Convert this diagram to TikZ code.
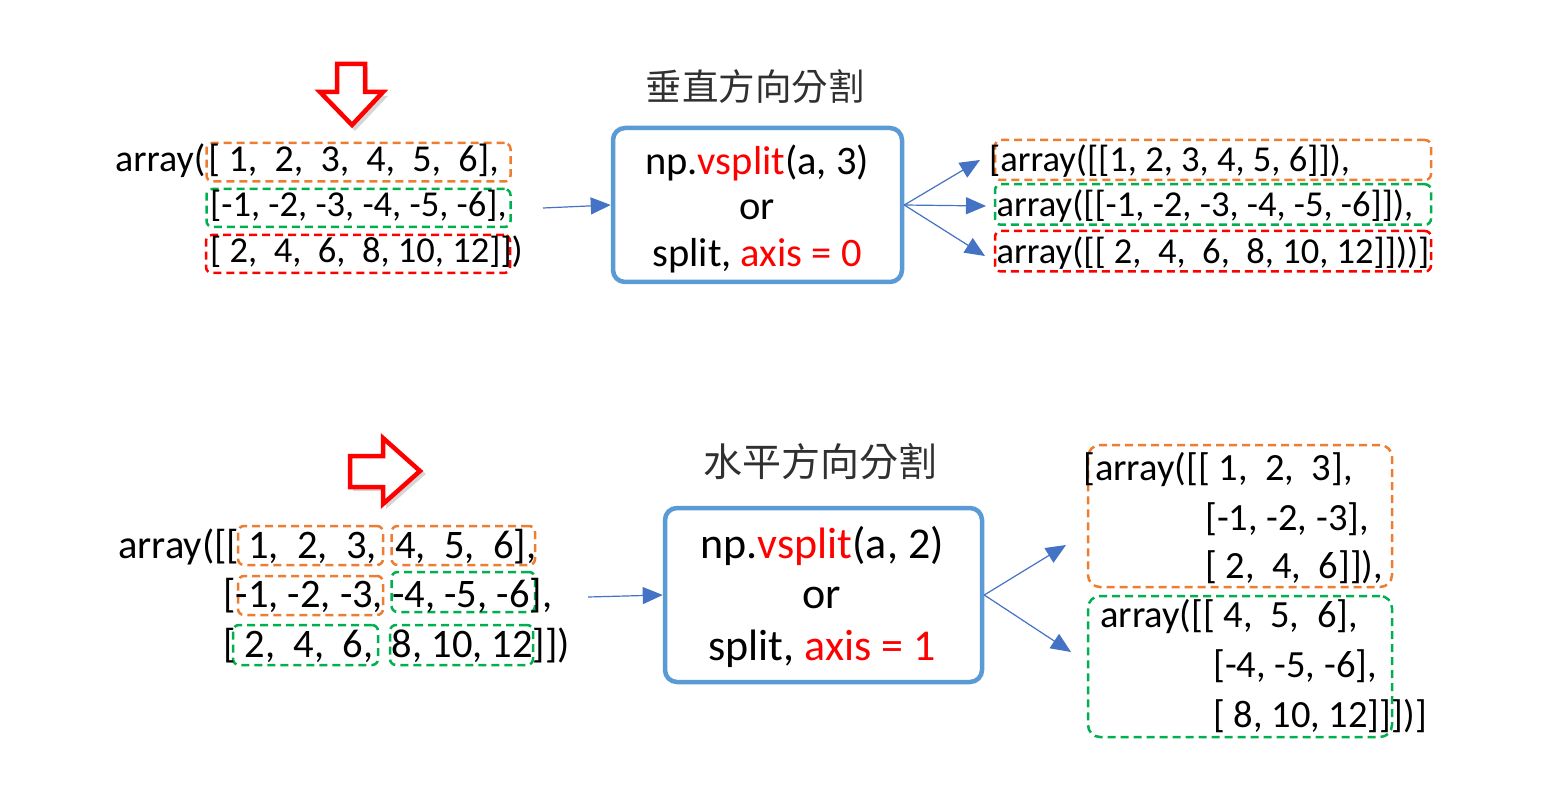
\documentclass[tikz,border=0pt]{standalone}
\usepackage{fontspec}
\setmainfont{Carlito}
\newfontfamily\cjk{Noto Sans CJK TC}
\usetikzlibrary{arrows.meta}
\definecolor{cOrange}{HTML}{ED7D31}
\definecolor{cGreen}{HTML}{00B050}
\definecolor{cRed}{HTML}{FF0000}
\definecolor{cBlue}{HTML}{4472C4}
\definecolor{cBox}{HTML}{5B9BD5}
\definecolor{cTitle}{HTML}{303030}
\begin{document}
\begin{tikzpicture}[x=1pt,y=-1pt,
  dbox/.style={draw, line width=2.5pt, dash pattern=on 8pt off 5pt, rounded corners=6pt, inner sep=0pt},
  obox/.style={dbox, draw=cOrange},
  gbox/.style={dbox, draw=cGreen},
  rbox/.style={dbox, draw=cRed},
  txt/.style={inner sep=0pt, anchor=base west},
  fsA/.style={font=\fontsize{36.5}{44}\selectfont},
  fsAA/.style={font=\fontsize{38}{44}\selectfont},
  fsB/.style={font=\fontsize{40.5}{48}\selectfont},
  fsC/.style={font=\fontsize{38.5}{46}\selectfont},
  btxt/.style={inner sep=0pt, anchor=base},
  splitbox/.style={draw=cBox, line width=4.5pt, rounded corners=12pt, inner sep=0pt},
  title/.style={inner sep=0pt, text=cTitle, font=\cjk\fontsize{36.5}{40}\selectfont},
  arr/.style={draw=cBlue, line width=1.2pt, -{Triangle[length=20pt,width=17pt]}},
  hollow/.style={draw=cRed, line width=4.5pt, fill=white, line join=miter},
  shadowc/.style={fill=black, opacity=0.16}
]
\useasboundingbox (0,0) rectangle (1565,791);
\fill[white] (0,0) rectangle (1565,791);

%% ---------------- top section ----------------
% red hollow down arrow
\fill[shadowc] (340,67) -- (368,67) -- (368,96) -- (388,96) -- (355,131) -- (322,96) -- (340,96) -- cycle;
\draw[hollow] (337,64) -- (365,64) -- (365,92) -- (383,92) -- (352,125) -- (320,92) -- (337,92) -- cycle;

% dashed boxes left
\node[obox, minimum width=304, minimum height=38.5] (o1) at (358.5,162.25) {};
\node[gbox, minimum width=304, minimum height=38] (g1) at (358.5,208) {};
\node[rbox, minimum width=304, minimum height=38] (r1) at (358,254) {};

% left text
\node[txt, fsAA] (L1) at (115,172) {array(\hspace{3pt}[~1,~~2,~~3,~~4,~~5,~~6],};
\node[txt, fsA] (L2) at (210,217) {[-1,~-2,~-3,~-4,~-5,~-6],};
\node[txt, fsA] (L3) at (210,263) {[~2,~~4,~~6,~~8,~10,~12]])};

% title
\node[title] (t1) at (755,87) {垂直方向分割};

% split box
\node[splitbox, minimum width=289, minimum height=154] (box1) at (757.5,205) {};
\node[btxt, fsB] (b1a) at (757,175) {np.\textcolor{cRed}{vsplit}(a,~3)};
\node[btxt, fsB] (b1b) at (757,220) {or};
\node[btxt, fsB] (b1c) at (757,267) {split,~\textcolor{cRed}{axis = 0}};

% right dashed boxes
\node[obox, minimum width=436, minimum height=40] (o1r) at (1213,160) {};
\node[gbox, minimum width=436, minimum height=40.5] (g1r) at (1213,204.5) {};
\node[rbox, minimum width=436, minimum height=40.5] (r1r) at (1213,251.25) {};

% right text
\node[txt, fsA] (R1) at (989,172) {[array([[1,~2,~3,~4,~5,~6]]),};
\node[txt, fsA] (R2) at (996.5,217) {array([[-1,~-2,~-3,~-4,~-5,~-6]]),};
\node[txt, fsA] (R3) at (996.5,263.5) {array([[~2,~~4,~~6,~~8,~10,~12]]))]};

% arrows
\coordinate (s1) at (543,208);
\draw[arr] (s1) -- (box1.west);
\coordinate (e1a) at (980,160);
\coordinate (e1b) at (986,206);
\coordinate (e1c) at (985,256);
\draw[arr] (box1.east) -- (e1a);
\draw[arr] (box1.east) -- (e1b);
\draw[arr] (box1.east) -- (e1c);

%% ---------------- bottom section ----------------
% red hollow right arrow
\fill[shadowc] (353,459) -- (386,459) -- (386,440) -- (426,474) -- (386,509) -- (386,491) -- (353,491) -- cycle;
\draw[hollow] (350,456) -- (383,456) -- (383,438) -- (420,471) -- (383,504) -- (383,487) -- (350,487) -- cycle;

% dashed boxes left
\node[obox, minimum width=145, minimum height=39] (o2a) at (310.5,545.5) {};
\node[obox, minimum width=143.5, minimum height=39] (o2b) at (463.25,545.5) {};
\node[obox, minimum width=145, minimum height=39] (o2c) at (310.5,595.5) {};
\node[gbox, minimum width=143.5, minimum height=40] (g2a) at (463.25,592) {};
\node[gbox, minimum width=145, minimum height=40] (g2b) at (305.5,645) {};
\node[gbox, minimum width=143, minimum height=40] (g2c) at (461.5,645) {};

% left text
\node[txt, fsB] (B1) at (118,558) {array([[~1,~~2,~~3,~~4,~~5,~~6],};
\node[txt, fsB] (B2) at (223,607) {[-1,~-2,~-3,~-4,~-5,~-6],};
\node[txt, fsB] (B3) at (223,657) {[~2,~~4,~~6,~~8,~10,~12]])};

% title
\node[title, font=\cjk\fontsize{39}{42}\selectfont] (t2) at (820,462) {水平方向分割};

% split box
\node[splitbox, minimum width=317, minimum height=174] (box2) at (823.5,595) {};
\node[btxt, font=\fontsize{44}{52}\selectfont] (b2a) at (822,558) {np.\textcolor{cRed}{vsplit}(a,~2)};
\node[btxt, font=\fontsize{44}{52}\selectfont] (b2b) at (822,608) {or};
\node[btxt, font=\fontsize{44}{52}\selectfont] (b2c) at (822,660) {split,~\textcolor{cRed}{axis = 1}};

% right dashed boxes
\node[obox, minimum width=304, minimum height=142, rounded corners=12pt] (o2r) at (1240,516) {};
\node[gbox, minimum width=304, minimum height=141, rounded corners=12pt] (g2r) at (1240,666.5) {};

% right text
\node[txt, fsC] (C1) at (1083,480) {[array([[~1,~~2,~~3],};
\node[txt, fsC] (C2) at (1205,530) {[-1,~-2,~-3],};
\node[txt, fsC] (C3) at (1205,578) {[~2,~~4,~~6]]),};
\node[txt, fsC] (C4) at (1100,627) {array([[~4,~~5,~~6],};
\node[txt, fsC] (C5) at (1213,677) {[-4,~-5,~-6],};
\node[txt, fsC] (C6) at (1213,727) {[~8,~10,~12]]])]};

% arrows
\coordinate (s2) at (588,597);
\draw[arr] (s2) -- (box2.west);
\coordinate (e2a) at (1066,545);
\coordinate (e2b) at (1071,652);
\draw[arr] (box2.east) -- (e2a);
\draw[arr] (box2.east) -- (e2b);
\end{tikzpicture}
\end{document}
